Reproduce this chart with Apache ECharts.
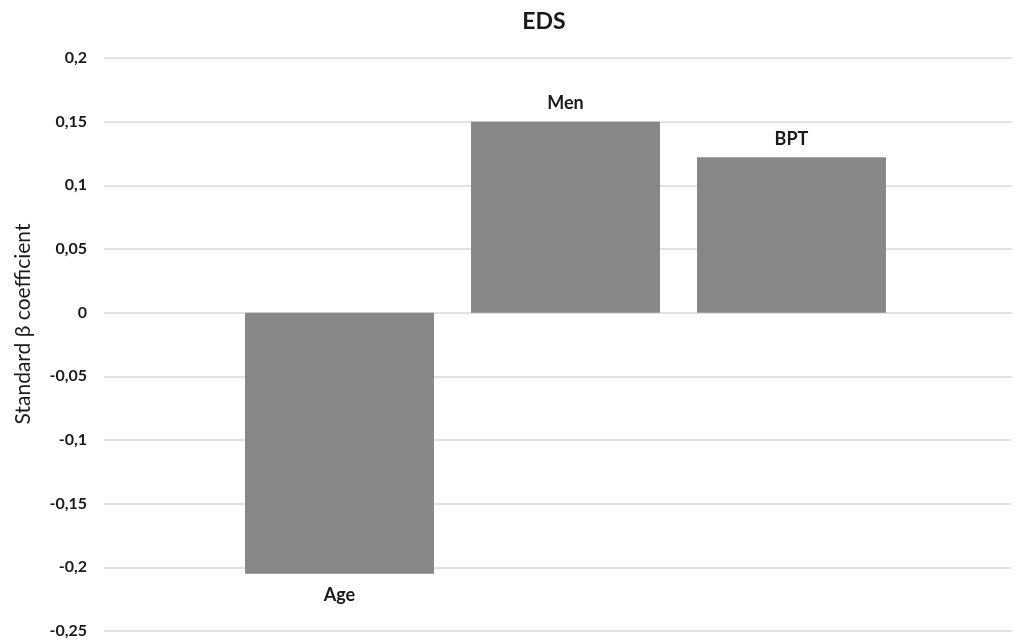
<!DOCTYPE html>
<html>
<head>
<meta charset="utf-8">
<script src="https://cdn.jsdelivr.net/npm/echarts@6/dist/echarts.min.js"></script>
<style>html,body{margin:0;padding:0;background:#fff}#c{width:1015px;height:640px}</style>
</head>
<body>
<div id="c"></div>
<script>
var title = 'EDS';
var yAxisTitle = 'Standard β coefficient';
var categories = ['Age', 'Men', 'BPT'];
var values = [-0.205, 0.15, 0.122];
var yTicks = [-0.25, -0.2, -0.15, -0.1, -0.05, 0, 0.05, 0.1, 0.15, 0.2];

var FONT = 'Lato, "Open Sans", sans-serif';
var yMin = yTicks[0], yMax = yTicks[yTicks.length - 1];
var chart = echarts.init(document.getElementById('c'), null, {renderer: 'canvas'});
var fmt = function (v) { return String(Math.round(v * 100) / 100).replace('.', ','); };

chart.setOption({
  animation: false,
  backgroundColor: '#ffffff',
  title: {
    text: title, left: 539, top: 5, textAlign: 'center',
    textStyle: {fontFamily: FONT, fontWeight: 'bold', fontSize: 23, color: '#1a1a1a'}
  },
  graphic: [{
    type: 'text', x: 23, y: 324, rotation: Math.PI / 2,
    style: {text: yAxisTitle, align: 'center', verticalAlign: 'middle',
            fontFamily: FONT, fontSize: 21, fill: '#1a1a1a'}
  }],
  grid: [
    {left: 104, right: 3, top: 58, bottom: 9},
    {left: 226.5, right: 110.5, top: 58, bottom: 9}
  ],
  xAxis: [
    {gridIndex: 0, type: 'value', min: 0, max: 1, show: false},
    {gridIndex: 1, type: 'category', data: categories, show: false}
  ],
  yAxis: [
    {
      gridIndex: 0, type: 'value', min: yMin, max: yMax, interval: 0.05,
      axisLine: {show: false}, axisTick: {show: false},
      splitLine: {lineStyle: {color: '#d9d9d9', width: 1.5}},
      axisLabel: {formatter: fmt, margin: 17, fontFamily: FONT, fontWeight: 'bold', fontSize: 16, color: '#1a1a1a'}
    },
    {gridIndex: 1, type: 'value', min: yMin, max: yMax, interval: 0.05, show: false, splitLine: {show: false}}
  ],
  series: [{
    type: 'bar', xAxisIndex: 1, yAxisIndex: 1,
    barCategoryGap: '16.4%',
    itemStyle: {color: '#878787'},
    label: {show: true, formatter: '{b}', fontFamily: FONT, fontWeight: 'bold', fontSize: 18, color: '#1a1a1a'},
    data: values.map(function (v) {
      return {value: v, label: v < 0 ? {position: 'bottom', distance: 12} : {position: 'top', distance: 9}};
    })
  }]
});
</script>
</body>
</html>
